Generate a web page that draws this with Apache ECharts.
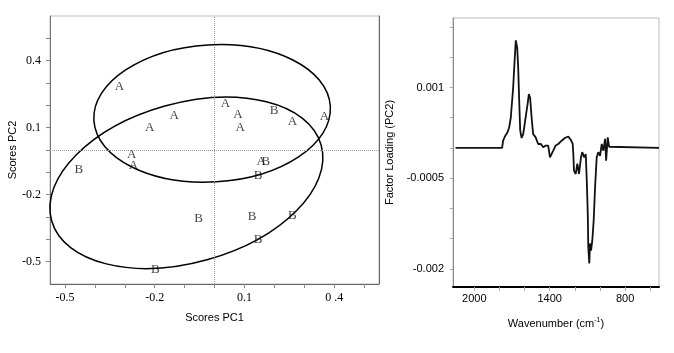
<!DOCTYPE html>
<html>
<head>
<meta charset="utf-8">
<script src="https://cdn.jsdelivr.net/npm/echarts@6/dist/echarts.min.js"></script>
<style>
html, body { margin: 0; padding: 0; background: #fff; }
#chart { width: 674px; height: 353px; }
</style>
</head>
<body>
<div id="chart"></div>
<script>
// scores plot (PC1 vs PC2)
var scoreX = [-0.318, -0.135, -0.217, 0.037, 0.078, 0.086, 0.199, 0.261, 0.368, -0.277, -0.271, -0.454, 0.156, 0.172, 0.146, -0.053, 0.126, 0.260, 0.146, -0.198];
var scoreY = [0.286, 0.152, 0.102, 0.207, 0.160, 0.102, 0.176, 0.127, 0.149, -0.022, -0.070, -0.089, -0.054, -0.054, -0.115, -0.306, -0.300, -0.295, -0.401, -0.534];
var scoreGroup = ['A', 'A', 'A', 'A', 'A', 'A', 'B', 'A', 'A', 'A', 'A', 'B', 'A', 'B', 'B', 'B', 'B', 'B', 'B', 'B'];
// ellipses: centre x, centre y, half axis (x units), half axis (y units), tilt deg
var ellipseA = [-0.008, 0.164, 0.396, 0.307, 3.4];
var ellipseB = [-0.094, -0.147, 0.468, 0.357, 15.7];
var pc1Labels = [-0.5, -0.2, 0.1, 0.4];
var pc1Ticks = [-0.5, -0.4, -0.3, -0.2, -0.1, 0, 0.1, 0.2, 0.3, 0.4, 0.5];
var pc2Labels = [-0.5, -0.2, 0.1, 0.4];
var pc2Ticks = [-0.5, -0.4, -0.3, -0.2, -0.1, 0, 0.1, 0.2, 0.3, 0.4, 0.5];

// loading spectrum
var waveNumbers = [2150, 1779, 1771, 1757, 1736, 1723, 1710, 1691, 1678, 1670, 1659, 1651, 1643, 1635, 1624, 1611, 1592, 1576, 1566, 1556, 1544, 1532, 1512, 1492, 1470, 1452, 1433, 1412, 1398, 1385, 1372, 1353, 1332, 1305, 1279, 1252, 1231, 1217, 1212, 1207, 1193, 1180, 1167, 1151, 1141, 1125, 1113, 1105, 1097, 1093, 1085, 1079, 1071, 1061, 1050, 1039, 1026, 1013, 999, 986, 973, 959, 951, 938, 927, 530];
var loadings = [0, 0, 0.00012, 0.00019, 0.00026, 0.00034, 0.0005, 0.001, 0.0015, 0.00178, 0.00166, 0.00133, 0.00078, 0.00029, 0.000165, 0.00023, 0.0005, 0.00073, 0.00089, 0.00083, 0.0005, 0.00023, 0.000175, 0.000066, 0.000066, 0.00001, 0.00004, 0.00004, -0.000155, -0.00018, -0.000045, 0.00004, 0.000066, 0.00012, 0.000165, 0.00019, 0.00013, 0.000066, -0.0001, -0.000375, -0.00043, -0.00026, -0.00043, -0.000155, -0.00007, -0.000155, -0.0001, -0.00054, -0.00109, -0.00164, -0.00191, -0.00158, -0.0017, -0.00153, -0.0012, -0.00065, -0.000155, -0.00007, -0.00013, 0.000066, -0.000045, 0.00015, -0.00021, 0.000175, 0.00002, 0];
var waveLabels = [2000, 1400, 800];
var waveTicks = [2000, 1800, 1600, 1400, 1200, 1000, 800, 600];
var loadLabels = [-0.002, -0.0005, 0.001];
var loadTicks = [-0.002, -0.0015, -0.001, -0.0005, 0, 0.0005, 0.001, 0.0015, 0.002];

var serif = 'Liberation Serif';
var sans = 'Liberation Sans';

var myChart = echarts.init(document.getElementById('chart'));

function drawEllipse(params, api) {
  var c = api.coord([api.value(0), api.value(1)]);
  var rx = api.size([api.value(2), 0])[0];
  var ry = api.size([0, api.value(3)])[1];
  return {
    type: 'ellipse',
    x: c[0],
    y: c[1],
    rotation: api.value(4) * Math.PI / 180,
    shape: { cx: 0, cy: 0, rx: rx, ry: ry },
    style: { fill: 'none', stroke: '#000', lineWidth: 1.5 }
  };
}

var option = {
  animation: false,
  grid: [
    { left: 50, top: 16, width: 329, height: 268, show: true, borderColor: '#bbb', borderWidth: 1, outerBoundsMode: 'none' },
    { left: 453, top: 18, width: 206, height: 269, show: true, borderColor: '#bbb', borderWidth: 1, outerBoundsMode: 'none' }
  ],
  xAxis: [
    {
      gridIndex: 0, type: 'value', min: -0.55, max: 0.55,
      name: 'Scores PC1', nameLocation: 'middle', nameGap: 28,
      nameTextStyle: { fontFamily: sans, fontSize: 11, color: '#000' },
      axisLine: { onZero: false, lineStyle: { color: '#666', width: 1 } },
      axisTick: { show: true, length: 4, lineStyle: { color: '#888' }, customValues: pc1Ticks },
      axisLabel: {
        fontFamily: serif, fontSize: 12, color: '#000', margin: 8, customValues: pc1Labels,
        formatter: function (v) { return v === 0.4 ? '0 .4' : String(v); }
      },
      splitLine: { show: false }
    },
    {
      gridIndex: 1, type: 'value', min: 530, max: 2170, inverse: true,
      name: 'Wavenumber (cm{sup|-1})', nameLocation: 'middle', nameGap: 30,
      nameTextStyle: {
        fontFamily: sans, fontSize: 11, color: '#000',
        rich: { sup: { fontFamily: sans, fontSize: 7, color: '#000', verticalAlign: 'top', padding: [0, 0, 6, 0] } }
      },
      axisLine: { onZero: false, lineStyle: { color: '#000', width: 2 } },
      axisTick: { show: true, length: 4, lineStyle: { color: '#aaa' }, customValues: waveTicks },
      axisLabel: {
        fontFamily: sans, fontSize: 11, color: '#000', margin: 6, customValues: waveLabels,
        formatter: function (v) { return String(v); }
      },
      splitLine: { show: false }
    }
  ],
  yAxis: [
    {
      gridIndex: 0, type: 'value', min: -0.6, max: 0.6,
      name: 'Scores PC2', nameLocation: 'middle', nameGap: 30,
      nameTextStyle: { fontFamily: sans, fontSize: 11, color: '#000' },
      axisLine: { show: true, onZero: false, lineStyle: { color: '#777', width: 1 } },
      axisTick: { show: true, length: 4, lineStyle: { color: '#888' }, customValues: pc2Ticks },
      axisLabel: { fontFamily: serif, fontSize: 12, color: '#000', margin: 9, customValues: pc2Labels },
      splitLine: { show: false }
    },
    {
      gridIndex: 0, type: 'value', min: -0.6, max: 0.6, position: 'right',
      axisLine: { show: true, onZero: false, lineStyle: { color: '#666', width: 1 } },
      axisTick: { show: false }, axisLabel: { show: false }, splitLine: { show: false }
    },
    {
      gridIndex: 1, type: 'value', min: -0.0023, max: 0.00215,
      name: 'Factor Loading (PC2)', nameLocation: 'middle', nameGap: 58,
      nameTextStyle: { fontFamily: sans, fontSize: 11, color: '#000' },
      axisLine: { show: true, onZero: false, lineStyle: { color: '#888', width: 1 } },
      axisTick: { show: true, length: 3, lineStyle: { color: '#aaa' }, customValues: loadTicks },
      axisLabel: { fontFamily: sans, fontSize: 11, color: '#000', margin: 9, customValues: loadLabels },
      splitLine: { show: false }
    }
  ],
  series: [
    {
      type: 'custom',
      xAxisIndex: 0, yAxisIndex: 0,
      renderItem: drawEllipse,
      data: [ellipseA, ellipseB],
      silent: true
    },
    {
      type: 'scatter',
      xAxisIndex: 0, yAxisIndex: 0,
      symbolSize: 1,
      itemStyle: { color: 'rgba(0,0,0,0)' },
      label: {
        show: true, position: 'inside',
        fontFamily: serif, fontSize: 13, color: '#111',
        formatter: function (p) { return p.value[2]; }
      },
      labelLayout: { hideOverlap: false },
      data: scoreX.map(function (x, i) { return [x, scoreY[i], scoreGroup[i]]; }),
      markLine: {
        silent: true,
        symbol: ['none', 'none'],
        label: { show: false },
        lineStyle: { type: 'dotted', color: '#999', width: 1 },
        data: [{ xAxis: 0 }, { yAxis: 0 }]
      }
    },
    {
      type: 'line',
      xAxisIndex: 1, yAxisIndex: 2,
      showSymbol: false,
      lineStyle: { color: '#111', width: 1.8 },
      data: waveNumbers.map(function (w, i) { return [w, loadings[i]]; })
    }
  ]
};
option && myChart.setOption(option);
</script>
</body>
</html>
